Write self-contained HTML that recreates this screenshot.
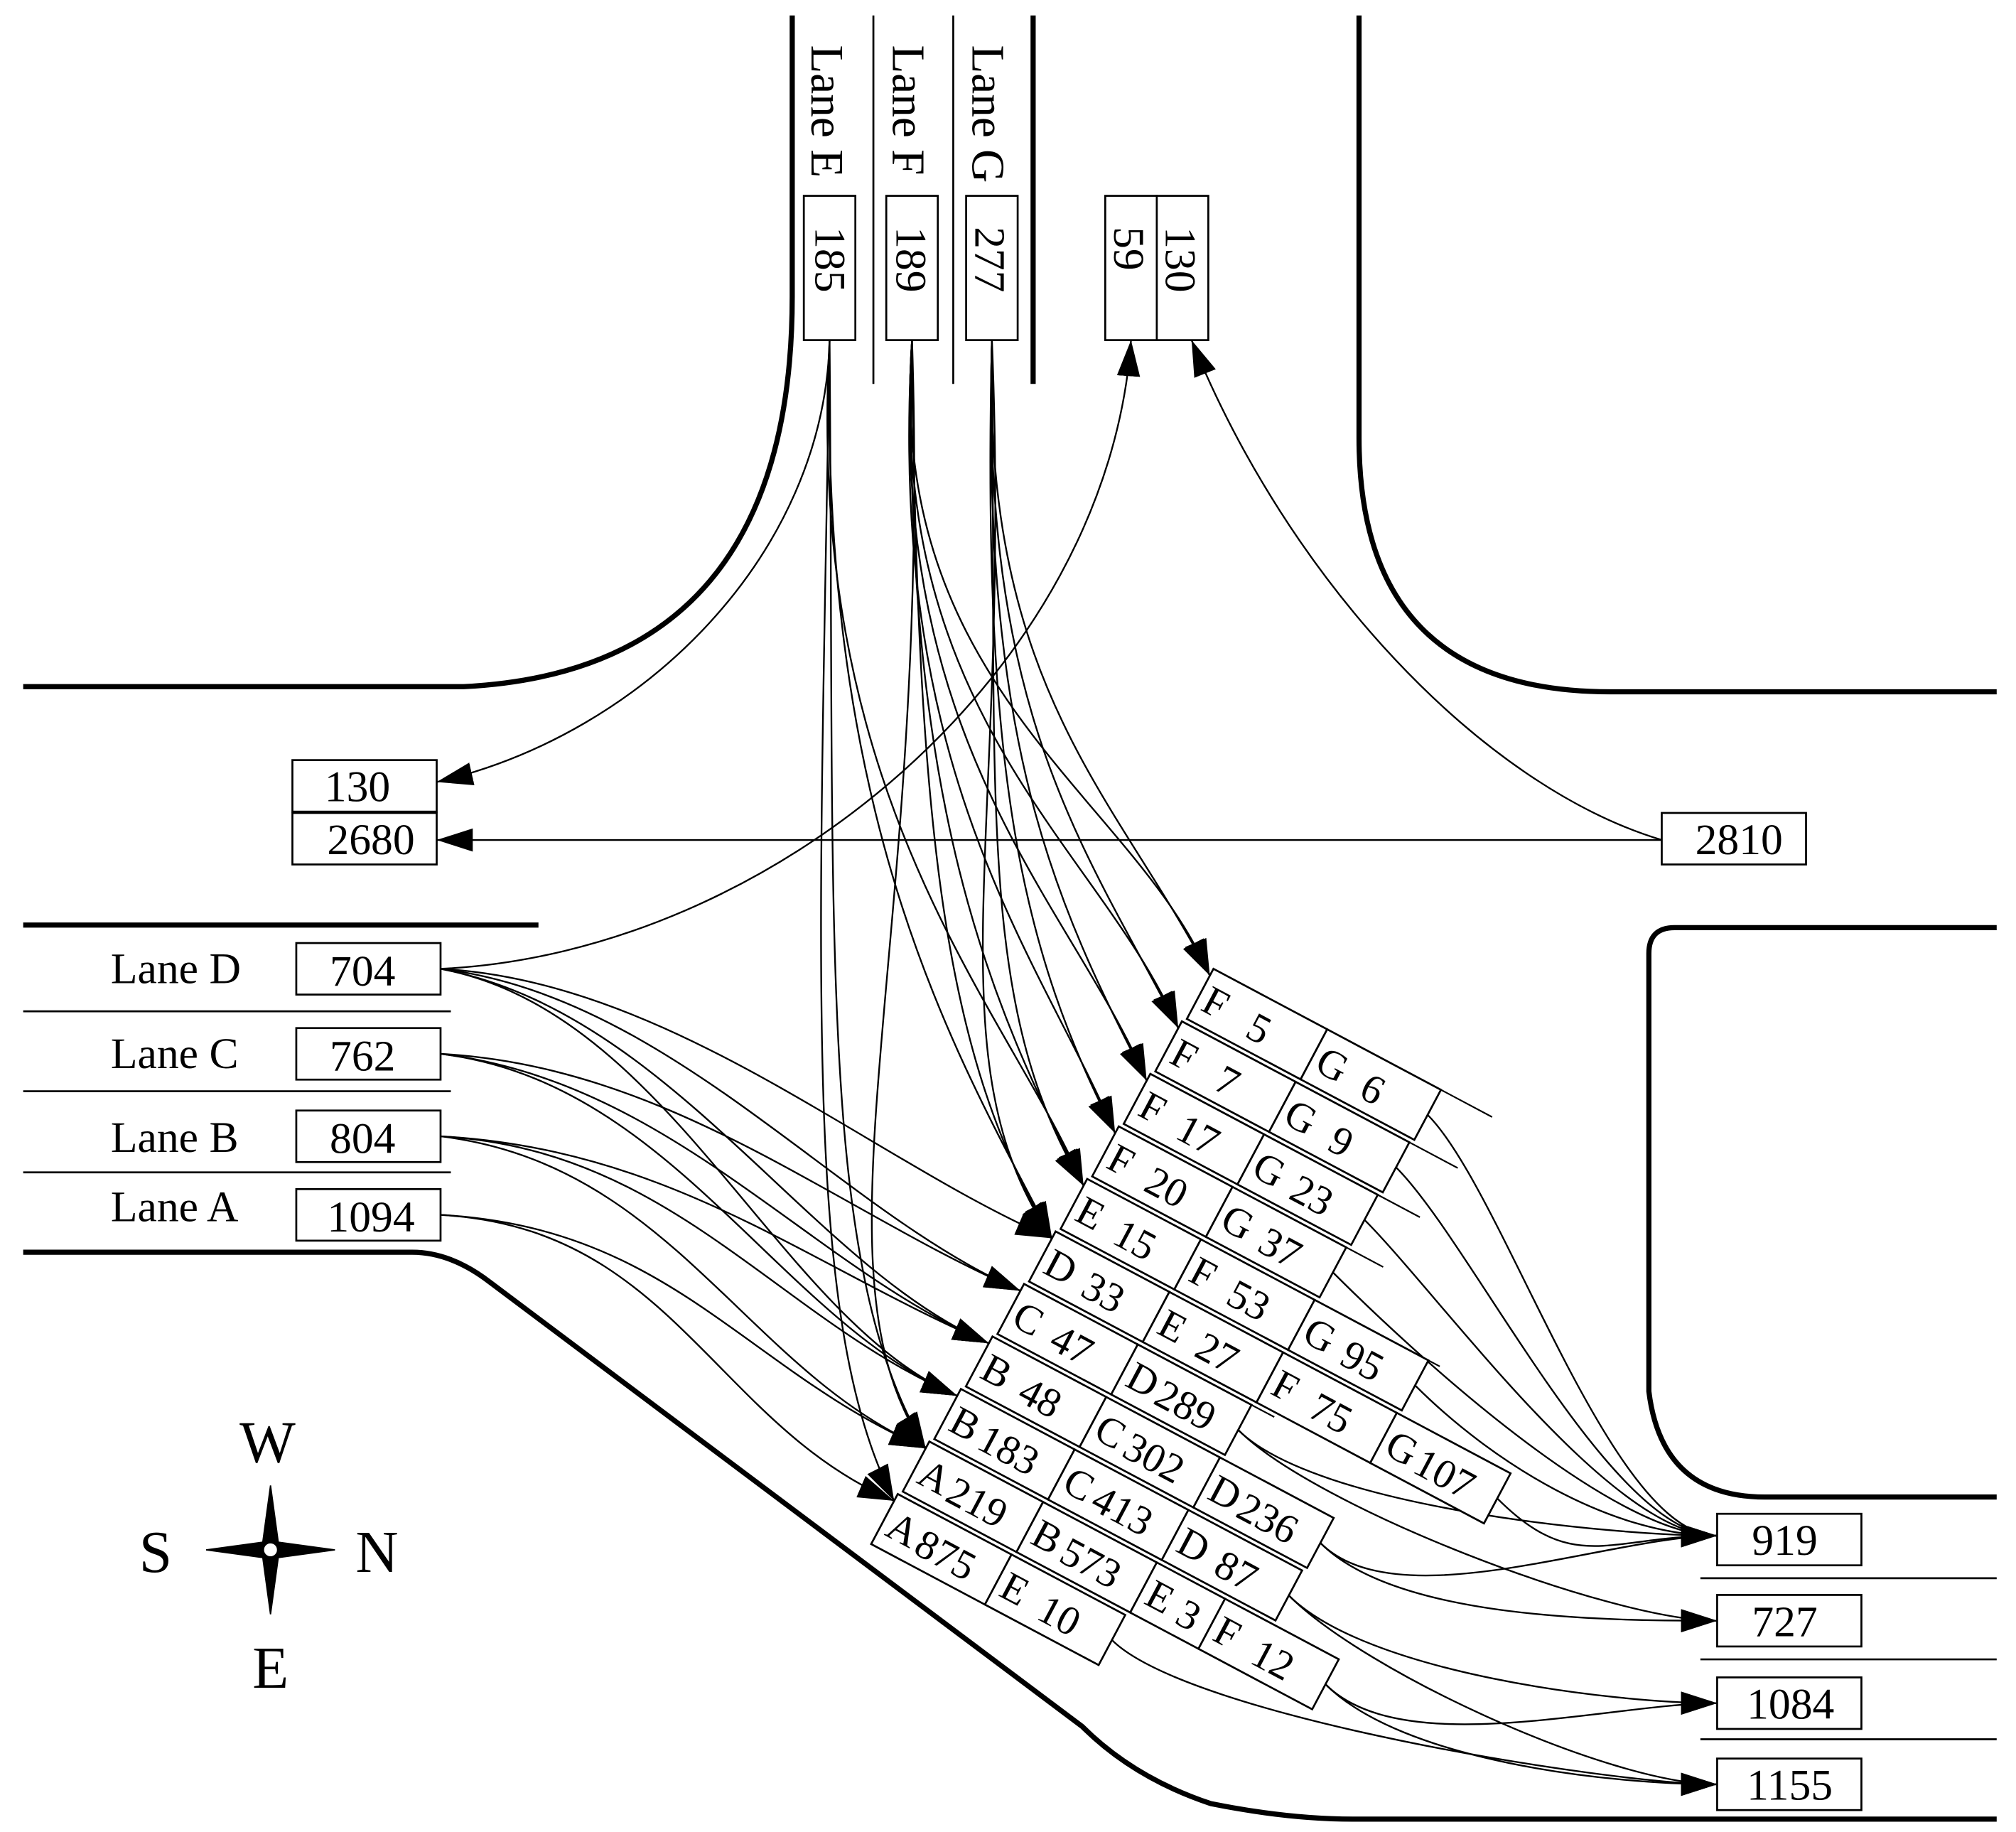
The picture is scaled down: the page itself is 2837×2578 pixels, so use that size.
<!DOCTYPE html>
<html><head><meta charset="utf-8"><style>
html,body{margin:0;padding:0;background:#fff}
svg{display:block}
text{font-family:"Liberation Serif",serif;fill:#000}
</style></head><body>
<svg id="s" width="2837" height="2578" viewBox="0 0 1565 1422" preserveAspectRatio="none" xmlns="http://www.w3.org/2000/svg">
<defs><marker id="ar" markerUnits="userSpaceOnUse" markerWidth="32" markerHeight="20" refX="28" refY="9" orient="auto"><path d="M0,0 L28,9 L0,18 z" fill="#000"/></marker></defs>
<rect width="1565" height="1422" fill="#fff"/>
<g fill="none" stroke="#000">
<path d="M615,12 L615,230 Q615,520 360,533 L18,533" stroke-width="4"/>
<path d="M678,12 V298 M740,12 V298" stroke-width="1.5"/>
<path d="M802,12 V298" stroke-width="4"/>
<path d="M1055,12 V340 Q1055,537 1250,537 H1550" stroke-width="4"/>
<path d="M18,718 H418" stroke-width="4"/>
<path d="M18,785 H350 M18,847 H350 M18,910 H350" stroke-width="1.5"/>
<path d="M18,972 H320 Q350,972 380,995 L840,1340 Q880,1380 940,1400 Q1000,1412 1050,1412 H1550" stroke-width="4"/>
<path d="M1550,720 H1300 Q1280,720 1280,740 V1080 Q1290,1162 1370,1162 H1550" stroke-width="4"/>
<path d="M1320,1225 H1550 M1320,1288 H1550 M1320,1350 H1550" stroke-width="1.5"/>
</g>
<g fill="#fff" stroke="#000" stroke-width="1.5">
<rect x="624" y="152" width="40" height="112"/><rect x="688" y="152" width="40" height="112"/><rect x="750" y="152" width="40" height="112"/>
<rect x="858" y="152" width="40" height="112"/><rect x="898" y="152" width="40" height="112"/>
<rect x="227" y="590" width="112" height="40"/><rect x="227" y="631" width="112" height="40"/><rect x="1290" y="631" width="112" height="40"/>
<rect x="230" y="732" width="112" height="40"/><rect x="230" y="798" width="112" height="40"/><rect x="230" y="862" width="112" height="40"/><rect x="230" y="923" width="112" height="40"/>
<rect x="1333" y="1175" width="112" height="40"/><rect x="1333" y="1238" width="112" height="40"/><rect x="1333" y="1302" width="112" height="40"/><rect x="1333" y="1365" width="112" height="40"/>
</g>
<g font-size="34">
<text transform="translate(630,35) rotate(90)" font-size="36">Lane E</text>
<text transform="translate(693,35) rotate(90)" font-size="36">Lane F</text>
<text transform="translate(755,35) rotate(90)" font-size="36">Lane G</text>
<text transform="translate(633,176) rotate(90)">185</text>
<text transform="translate(696,176) rotate(90)">189</text>
<text transform="translate(757,176) rotate(90)">277</text>
<text transform="translate(865,176) rotate(90)">59</text>
<text transform="translate(905,176) rotate(90)">130</text>
<text x="252" y="622">130</text><text x="254" y="663">2680</text><text x="1316" y="663">2810</text>
<text x="86" y="763">Lane D</text><text x="86" y="829">Lane C</text><text x="86" y="894">Lane B</text><text x="86" y="948">Lane A</text>
<text x="256" y="765">704</text><text x="256" y="831">762</text><text x="256" y="895">804</text><text x="254" y="956">1094</text>
<text x="1360" y="1207">919</text><text x="1360" y="1270">727</text><text x="1356" y="1334">1084</text><text x="1356" y="1397">1155</text>
<text x="186" y="1135" font-size="46">W</text><text x="108" y="1220" font-size="46">S</text><text x="276" y="1220" font-size="46">N</text><text x="196" y="1310" font-size="46">E</text>
</g>
<g stroke="#000" fill="#000">
<path d="M210,1153 L216,1197 L260,1203 L216,1209 L210,1253 L204,1209 L160,1203 L204,1197 z"/>
<circle cx="210" cy="1203" r="6" fill="#fff" stroke-width="2"/>
</g>
<g id="arrows" fill="none" stroke="#000" stroke-width="1.3"></g>
<g transform="translate(942,752) rotate(28)" font-size="32" stroke-width="1.5">
<g fill="#fff" stroke="#000">
<rect x="0" y="0" width="100" height="44"/><rect x="100" y="0" width="100" height="44"/>
<rect x="-2.5" y="47.5" width="100" height="44"/><rect x="97.5" y="47.5" width="100" height="44"/>
<rect x="-5" y="95" width="100" height="44"/><rect x="95" y="95" width="100" height="44"/>
<rect x="-7.5" y="142.5" width="100" height="44"/><rect x="92.5" y="142.5" width="100" height="44"/>
<rect x="-10" y="190" width="100" height="44"/><rect x="90" y="190" width="100" height="44"/><rect x="190" y="190" width="100" height="44"/>
<rect x="-12.5" y="237.5" width="100" height="44"/><rect x="87.5" y="237.5" width="100" height="44"/><rect x="187.5" y="237.5" width="100" height="44"/><rect x="287.5" y="237.5" width="100" height="44"/>
<rect x="-15" y="285" width="100" height="44"/><rect x="85" y="285" width="100" height="44"/>
<rect x="-17.5" y="332.5" width="100" height="44"/><rect x="82.5" y="332.5" width="100" height="44"/><rect x="182.5" y="332.5" width="100" height="44"/>
<rect x="-20" y="380" width="100" height="44"/><rect x="80" y="380" width="100" height="44"/><rect x="180" y="380" width="100" height="44"/>
<rect x="-22.5" y="427.5" width="100" height="44"/><rect x="77.5" y="427.5" width="100" height="44"/><rect x="177.5" y="427.5" width="60" height="44"/><rect x="237.5" y="427.5" width="100" height="44"/>
<rect x="-25" y="475" width="100" height="44"/><rect x="75" y="475" width="100" height="44"/>
</g>
<g fill="none" stroke="#000" stroke-width="1.2">
<path d="M200,0 H245 M197.5,47.5 H240 M195,95 H232 M192.5,142.5 H225 M290,190 H300 M85,285 H205 M75,519 H170"/>
</g>
<g>
<text x="5" y="33">F</text><text x="45" y="35">5</text><text x="105" y="33">G</text><text x="145" y="35">6</text>
<text x="2.5" y="80.5">F</text><text x="42.5" y="82.5">7</text><text x="102.5" y="80.5">G</text><text x="142.5" y="82.5">9</text>
<text x="0" y="128">F</text><text x="34" y="130">17</text><text x="100" y="128">G</text><text x="134" y="130">23</text>
<text x="-2.5" y="175.5">F</text><text x="31.5" y="177.5">20</text><text x="97.5" y="175.5">G</text><text x="131.5" y="177.5">37</text>
<text x="-5" y="223">E</text><text x="29" y="225">15</text><text x="95" y="223">F</text><text x="129" y="225">53</text><text x="195" y="223">G</text><text x="229" y="225">95</text>
<text x="-7.5" y="270.5">D</text><text x="26.5" y="272.5">33</text><text x="92.5" y="270.5">E</text><text x="126.5" y="272.5">27</text><text x="192.5" y="270.5">F</text><text x="226.5" y="272.5">75</text><text x="292.5" y="270.5">G</text><text x="318.5" y="272.5">107</text>
<text x="-10" y="318">C</text><text x="24" y="320">47</text><text x="90" y="318">D</text><text x="116" y="320">289</text>
<text x="-12.5" y="365.5">B</text><text x="21.5" y="367.5">48</text><text x="87.5" y="365.5">C</text><text x="113.5" y="367.5">302</text><text x="187.5" y="365.5">D</text><text x="213.5" y="367.5">236</text>
<text x="-15" y="413">B</text><text x="11" y="415">183</text><text x="85" y="413">C</text><text x="111" y="415">413</text><text x="185" y="413">D</text><text x="219" y="415">87</text>
<text x="-17.5" y="460.5">A</text><text x="8.5" y="462.5">219</text><text x="82.5" y="460.5">B</text><text x="108.5" y="462.5">573</text><text x="182.5" y="460.5">E</text><text x="210.5" y="462.5">3</text><text x="242.5" y="460.5">F</text><text x="276.5" y="462.5">12</text>
<text x="-20" y="508">A</text><text x="6" y="510">875</text><text x="80" y="508">E</text><text x="114" y="510">10</text>
</g>
</g>
</svg>
<script>
(function(){
var g=document.getElementById('arrows'),NS='http://www.w3.org/2000/svg';
function P(d,a){var p=document.createElementNS(NS,'path');p.setAttribute('d',d);if(a)p.setAttribute('marker-end','url(#ar)');g.appendChild(p);}
var c=Math.cos(28*Math.PI/180),s=Math.sin(28*Math.PI/180);
function W(lx,ly){return [942+lx*c-ly*s,752+lx*s+ly*c];}
var src={E:[644,264],F:[708,264],G:[770,264],D:[342,752],C:[342,818],B:[342,882],A:[342,943]};
var rows=[['FG',2],['FG',2],['FG',2],['FG',2],['EFG',3],['DEFG',4],['CD',2],['BCD',3],['BCD',3],['ABEF',3.6],['AE',2]];
var outs=[[1192],[1192],[1192],[1192],[1192],[1192],[1192,1258],[1192,1258],[1322,1385],[1322,1385],[1385]];
rows.forEach(function(r,k){
 var t=W(-2.5*k,47.5*k+6);
 r[0].split('').forEach(function(L,i){
  var S=src[L];var j=i*12;
  if(S[1]<300){P('M'+S[0]+','+S[1]+' C'+(S[0]-20+j)+','+(S[1]+(t[1]-S[1])*0.55)+' '+(t[0]-60-j)+','+(t[1]-140)+' '+t[0]+','+t[1],1);}
  else{P('M'+S[0]+','+S[1]+' C'+(S[0]+180)+','+(S[1]+10+j)+' '+(t[0]-140)+','+(t[1]-60)+' '+t[0]+','+t[1],1);}
 });
 var e=W(-2.5*k+100*r[1],47.5*k+22);
 outs[k].forEach(function(y){P('M'+e[0]+','+e[1]+' C'+(e[0]+60)+','+(e[1]+60)+' '+(1250)+','+y+' 1333,'+y,1);});
});
P('M644,264 C640,430 500,570 339,607',1);
P('M342,752 C600,740 860,520 878,264',1);
P('M1290,652 C1150,610 1000,450 925,264',1);
P('M1290,652 L339,652',1);
})();
</script>
</body></html>
